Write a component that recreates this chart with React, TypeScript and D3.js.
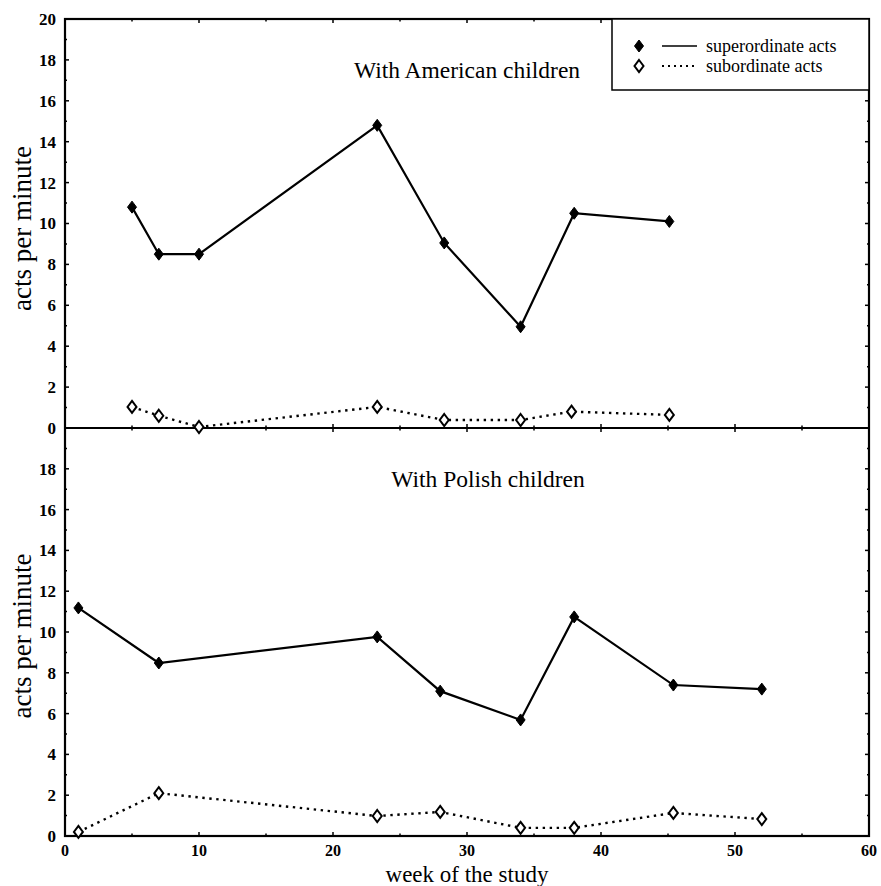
import React from 'react';
import * as d3 from 'd3';

// American children panel
const usWeeksSuper = [5, 7, 10, 23.3, 28.3, 34, 38, 45.1];
const usSuper = [10.8, 8.5, 8.5, 14.8, 9.05, 4.95, 10.5, 10.1];
const usWeeksSub = [5, 7, 10, 23.3, 28.3, 34, 37.8, 45.1];
const usSub = [1.03, 0.6, 0.05, 1.03, 0.39, 0.39, 0.8, 0.64];

// Polish children panel
const plWeeks = [1, 7, 23.3, 28, 34, 38, 45.4, 52];
const plSuper = [11.18, 8.48, 9.76, 7.1, 5.69, 10.74, 7.4, 7.2];
const plSub = [0.2, 2.1, 0.98, 1.18, 0.4, 0.4, 1.13, 0.83];

const xTicks = [0, 10, 20, 30, 40, 50, 60];
const topYTicks = [0, 2, 4, 6, 8, 10, 12, 14, 16, 18, 20];
const bottomYTicks = [0, 2, 4, 6, 8, 10, 12, 14, 16, 18];

const FONT = '"Liberation Serif", "DejaVu Serif", serif';

const left = 65;
const right = 869;
const top = 19;
const mid = 428;
const bottom = 836;

const x = d3.scaleLinear().domain([0, 60]).range([left, right]);
const yTop = d3.scaleLinear().domain([0, 20]).range([mid, top]);
const yBot = d3.scaleLinear().domain([0, 20]).range([bottom, mid]);

const diamond = (cx: number, cy: number) =>
  `M${cx},${cy - 6} L${cx + 4.5},${cy} L${cx},${cy + 6} L${cx - 4.5},${cy} Z`;

const Series = ({ xs, ys, y, filled }: { xs: number[]; ys: number[]; y: d3.ScaleLinear<number, number>; filled: boolean }) => {
  const pts: [number, number][] = xs.map((w, i) => [x(w), y(ys[i])]);
  const line = d3.line()(pts) || '';
  return (
    <g>
      <path d={line} fill="none" stroke="#000" strokeWidth={filled ? 2.2 : 2.4}
        strokeDasharray={filled ? undefined : '2.4,4.6'} />
      {pts.map(([px, py], i) => (
        <path key={i} d={diamond(px, py)}
          fill={filled ? '#000' : '#fff'} stroke="#000" strokeWidth={filled ? 1 : 2} />
      ))}
    </g>
  );
};

const YAxis = ({ y, ticks }: { y: d3.ScaleLinear<number, number>; ticks: number[] }) => {
  const minor = d3.range(0, 20, 1);
  return (
    <g>
      {minor.map(v => (
        <g key={'m' + v}>
          <line x1={left} x2={left + (v % 2 === 0 ? 4 : 2)} y1={y(v)} y2={y(v)} stroke="#000" strokeWidth={1.5} />
          <line x1={right} x2={right - (v % 2 === 0 ? 4 : 2)} y1={y(v)} y2={y(v)} stroke="#000" strokeWidth={1.5} />
        </g>
      ))}
      {ticks.map(v => (
        <text key={v} x={left - 9} y={y(v)} dy="0.35em" textAnchor="end"
          fontFamily={FONT} fontSize={17} fontWeight="bold">{v}</text>
      ))}
    </g>
  );
};

const Legend = () => {
  const bx = 612;
  const rows = [
    { label: 'superordinate acts', filled: true, cy: 46 },
    { label: 'subordinate acts', filled: false, cy: 66 },
  ];
  return (
    <g>
      <rect x={bx} y={top} width={right - bx} height={71} fill="#fff" stroke="#000" strokeWidth={1.5} />
      {rows.map(r => (
        <g key={r.label}>
          <path d={diamond(639, r.cy)} fill={r.filled ? '#000' : '#fff'} stroke="#000" strokeWidth={r.filled ? 1 : 2} />
          <line x1={662} x2={697} y1={r.cy} y2={r.cy} stroke="#000" strokeWidth={r.filled ? 1.5 : 2}
            strokeDasharray={r.filled ? undefined : '2,4'} />
          <text x={706} y={r.cy} dy="0.33em" fontFamily={FONT} fontSize={18}>{r.label}</text>
        </g>
      ))}
    </g>
  );
};

export default function App() {
  const minorX = d3.range(0, 61, 5);
  return (
    <svg width={881} height={886} style={{ position: 'absolute', left: 0, top: 0, background: '#fff' }}>
      <rect width={881} height={886} fill="#fff" />

      {/* panels */}
      <YAxis y={yTop} ticks={topYTicks} />
      <YAxis y={yBot} ticks={bottomYTicks} />

      {/* x ticks on top, middle and bottom lines */}
      {minorX.map(v => {
        const len = v % 10 === 0 ? 4 : 2.5;
        return (
          <g key={v}>
            <line x1={x(v)} x2={x(v)} y1={top} y2={top + len} stroke="#000" strokeWidth={1.5} />
            <line x1={x(v)} x2={x(v)} y1={mid - len} y2={mid + len} stroke="#000" strokeWidth={1.5} />
            <line x1={x(v)} x2={x(v)} y1={bottom} y2={bottom - len} stroke="#000" strokeWidth={1.5} />
          </g>
        );
      })}
      {xTicks.map(v => (
        <text key={v} x={x(v)} y={bottom + 20} textAnchor="middle"
          fontFamily={FONT} fontSize={16} fontWeight="bold">{v}</text>
      ))}

      <rect x={left} y={top} width={right - left} height={bottom - top} fill="none" stroke="#000" strokeWidth={2.2} />
      <line x1={left} x2={right} y1={mid} y2={mid} stroke="#000" strokeWidth={2.2} />

      <text x={467} y={78} textAnchor="middle" fontFamily={FONT} fontSize={23.5}>With American children</text>
      <text x={488} y={487} textAnchor="middle" fontFamily={FONT} fontSize={23.5}>With Polish children</text>

      <Series xs={usWeeksSuper} ys={usSuper} y={yTop} filled />
      <Series xs={usWeeksSub} ys={usSub} y={yTop} filled={false} />
      <Series xs={plWeeks} ys={plSuper} y={yBot} filled />
      <Series xs={plWeeks} ys={plSub} y={yBot} filled={false} />

      <Legend />

      <text transform={`translate(31,${(top + mid) / 2 + 5}) rotate(-90)`} textAnchor="middle"
        fontFamily={FONT} fontSize={27}>acts per minute</text>
      <text transform={`translate(31,${(mid + bottom) / 2 + 4}) rotate(-90)`} textAnchor="middle"
        fontFamily={FONT} fontSize={27}>acts per minute</text>
      <text x={467} y={882} textAnchor="middle" fontFamily={FONT} fontSize={23}>week of the study</text>
    </svg>
  );
}
